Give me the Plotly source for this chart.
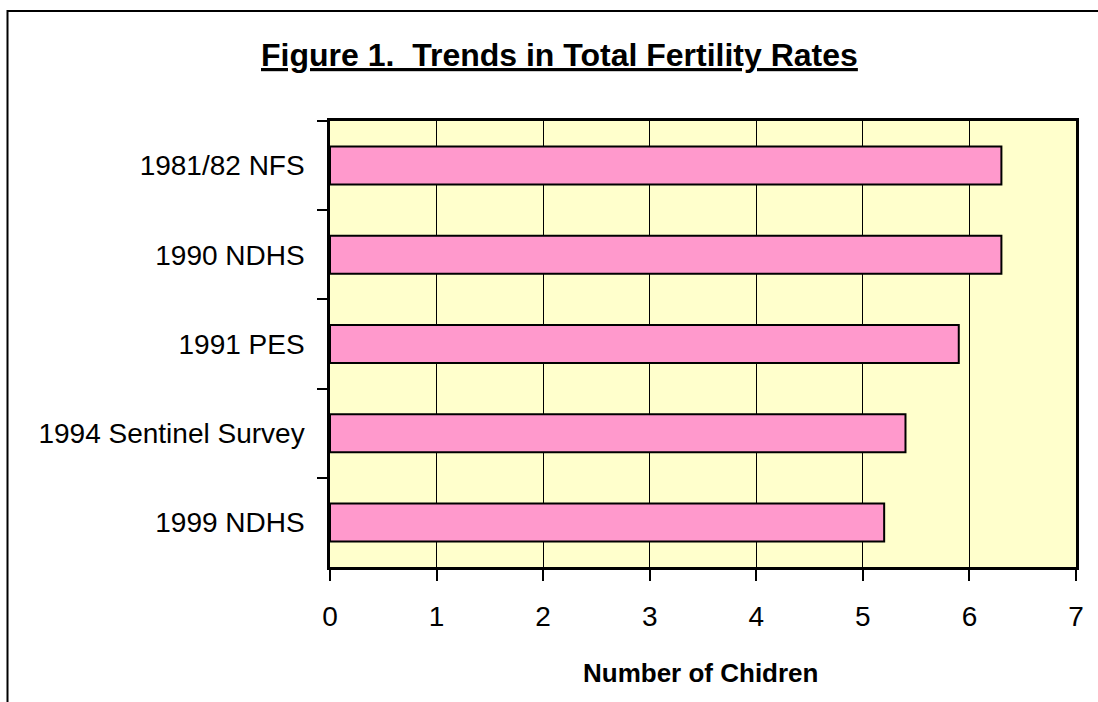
import plotly.graph_objects as go

categories = ["1981/82 NFS", "1990 NDHS", "1991 PES", "1994 Sentinel Survey", "1999 NDHS"]
tfr_values = [6.3, 6.3, 5.9, 5.4, 5.2]
x_ticks = [0, 1, 2, 3, 4, 5, 6, 7]

title_text = "Figure 1.\u00a0\u00a0Trends in Total Fertility Rates"
x_title = "Number of Chidren"

W, H = 1098, 702
L, R, T, B = 330, 22, 121, 135
pw, ph = W - L - R, H - T - B

def px_x(x):
    return (x - L) / pw

def px_y(y):
    return (H - B - y) / ph

fig = go.Figure()
fig.add_trace(go.Bar(
    x=tfr_values, y=categories, orientation="h",
    marker=dict(color="#FF99CC", line=dict(color="black", width=2)),
    showlegend=False,
))

font = "Liberation Sans, Arial, sans-serif"

fig.update_layout(
    width=W, height=H,
    margin=dict(l=L, r=R, t=T, b=B, pad=0),
    paper_bgcolor="white",
    plot_bgcolor="#FFFFCC",
    bargap=0.574,
    font=dict(family=font, color="black"),
    xaxis=dict(
        range=[0, 7], tickvals=x_ticks, ticktext=[str(v) for v in x_ticks],
        showgrid=True, gridcolor="black", gridwidth=1,
        zeroline=False,
        showline=True, linecolor="black", linewidth=2.5, mirror=True,
        ticks="outside", ticklen=11, tickwidth=1.5, tickcolor="black",
        tickfont=dict(size=28, family=font, color="black"),
        ticklabelstandoff=12,
        fixedrange=True,
    ),
    yaxis=dict(
        categoryorder="array", categoryarray=categories, autorange="reversed",
        showgrid=False, zeroline=False,
        showline=True, linecolor="black", linewidth=2.5, mirror=True,
        ticks="outside", tickson="boundaries", ticklen=10, tickwidth=1.5, tickcolor="black",
        tickfont=dict(size=28, family=font, color="black"),
        ticklabelstandoff=17,
        fixedrange=True,
    ),
    shapes=[
        dict(type="rect", xref="paper", yref="paper",
             x0=px_x(7.5), x1=px_x(1110), y0=px_y(720), y1=px_y(11),
             line=dict(color="black", width=2), fillcolor="rgba(0,0,0,0)", layer="below"),
    ],
    annotations=[
        dict(text="<b><u>" + title_text + "</u></b>", xref="paper", yref="paper",
             x=px_x(559), y=px_y(55), xanchor="center", yanchor="middle",
             showarrow=False, font=dict(size=32, family=font, color="black")),
        dict(text="<b>" + x_title + "</b>", xref="paper", yref="paper",
             x=px_x(700), y=px_y(673), xanchor="center", yanchor="middle",
             showarrow=False, font=dict(size=26, family=font, color="black")),
    ],
)

fig.write_html("out.html")
